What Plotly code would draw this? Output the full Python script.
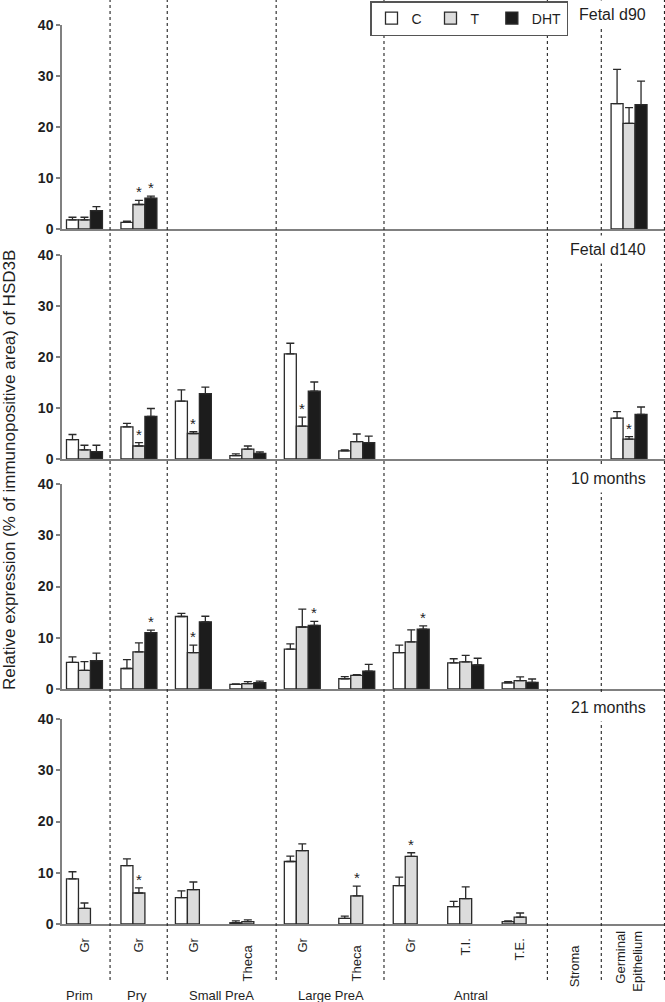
import plotly.graph_objects as go
from plotly.subplots import make_subplots

# ---------------- data ----------------
N = None
tick_labels = ["Gr", "Gr", "Gr", "Theca", "Gr", "Theca", "Gr", "T.I.", "T.E.", "Stroma",
               "Germinal<br>Epithelium"]
group_labels = ["Prim", "Pry", "Small PreA", "Large PreA", "Antral"]
group_pos = [-0.1, 0.96, 2.52, 4.53, 7.1]
panel_titles = ["Fetal d90", "Fetal d140", "10 months", "21 months"]
series_names = ["C", "T", "DHT"]

# Fetal d90
d90_C = [1.8, 1.3, N, N, N, N, N, N, N, N, 24.6]
d90_C_err = [0.5, 0.25, N, N, N, N, N, N, N, N, 6.7]
d90_T = [1.8, 4.8, N, N, N, N, N, N, N, N, 20.7]
d90_T_err = [0.5, 0.8, N, N, N, N, N, N, N, N, 3.1]
d90_DHT = [3.6, 6.05, N, N, N, N, N, N, N, N, 24.4]
d90_DHT_err = [0.8, 0.4, N, N, N, N, N, N, N, N, 4.6]

# Fetal d140
d140_C = [3.8, 6.3, 11.35, 0.65, 20.6, 1.6, N, N, N, N, 8.0]
d140_C_err = [1.0, 0.7, 2.2, 0.35, 2.1, 0.2, N, N, N, N, 1.3]
d140_T = [1.8, 2.55, 5.0, 1.95, 6.45, 3.4, N, N, N, N, 3.9]
d140_T_err = [0.9, 0.65, 0.35, 0.6, 1.75, 1.5, N, N, N, N, 0.5]
d140_DHT = [1.45, 8.35, 12.8, 1.1, 13.3, 3.2, N, N, N, N, 8.75]
d140_DHT_err = [1.25, 1.55, 1.3, 0.3, 1.8, 1.3, N, N, N, N, 1.45]

# 10 months
m10_C = [5.2, 4.0, 14.15, 0.9, 7.8, 2.0, 7.1, 5.1, 1.2, N, N]
m10_C_err = [1.05, 1.75, 0.6, 0.1, 1.0, 0.4, 1.45, 0.8, 0.25, N, N]
m10_T = [3.65, 7.25, 7.1, 1.05, 12.1, 2.65, 9.2, 5.3, 1.65, N, N]
m10_T_err = [1.7, 1.75, 1.45, 0.4, 3.5, 0.15, 2.35, 1.25, 0.7, N, N]
m10_DHT = [5.55, 11.0, 13.1, 1.25, 12.4, 3.5, 11.7, 4.7, 1.3, N, N]
m10_DHT_err = [1.45, 0.5, 1.1, 0.3, 0.8, 1.3, 0.6, 1.3, 0.65, N, N]

# 21 months (no DHT group)
m21_C = [8.8, 11.4, 5.15, 0.25, 12.2, 1.1, 7.5, 3.4, 0.45, N, N]
m21_C_err = [1.4, 1.3, 1.3, 0.35, 1.05, 0.45, 1.65, 1.0, 0.15, N, N]
m21_T = [3.05, 6.05, 6.7, 0.45, 14.3, 5.5, 13.2, 4.95, 1.35, N, N]
m21_T_err = [1.05, 1.0, 1.5, 0.35, 1.35, 1.9, 0.7, 2.3, 0.8, N, N]
m21_DHT = [N] * 11
m21_DHT_err = [N] * 11

# significance stars: (series index, category index)
stars_d90 = [(1, 1), (2, 1)]
stars_d140 = [(1, 1), (1, 2), (1, 4), (1, 10)]
stars_m10 = [(2, 1), (1, 2), (2, 4), (2, 6)]
stars_m21 = [(1, 1), (1, 5), (1, 6)]

panels = [
    ([d90_C, d90_T, d90_DHT], [d90_C_err, d90_T_err, d90_DHT_err], stars_d90),
    ([d140_C, d140_T, d140_DHT], [d140_C_err, d140_T_err, d140_DHT_err], stars_d140),
    ([m10_C, m10_T, m10_DHT], [m10_C_err, m10_T_err, m10_DHT_err], stars_m10),
    ([m21_C, m21_T, m21_DHT], [m21_C_err, m21_T_err, m21_DHT_err], stars_m21),
]

dividers = [0.47, 1.52, 3.52, 5.5, 8.5, 9.49, 10.65]

# ---------------- style ----------------
FONT = "Liberation Sans, Arial, Helvetica, sans-serif"
fills = ["#ffffff", "#dcdcdc", "#1c1c1c"]
edge = "#2a2a2a"
axis_col = "#808080"
txt = "#1f1f1f"

W, H = 665, 1002
ML, MR, MT, MB = 62, 0, 25, 78
plot_h = H - MT - MB
panel_px = [(25, 229), (255, 459), (484, 689), (719, 924)]


def py(p):
    return (H - MB - p) / plot_h


def px(p):
    return (p - ML) / (W - ML - MR)


x_range = [-0.4125, 10.66]
bargap = 0.34
bw = (1 - bargap) / 3

fig = make_subplots(rows=4, cols=1)
xs = list(range(len(tick_labels)))

# legend entry labels (trailing no-break spaces only widen the entry spacing)
legend_labels = ["C\u00a0", "T\u00a0\u00a0", "DHT"]

for r, (vals, errs, stars) in enumerate(panels, start=1):
    for s in range(3):
        fig.add_trace(
            go.Bar(
                x=xs, y=vals[s], name=legend_labels[s],
                marker=dict(color=fills[s], line=dict(color=edge, width=1.3)),
                error_y=dict(type="data", symmetric=False, array=errs[s],
                             arrayminus=[0 if v is not None else None for v in errs[s]],
                             color=edge, thickness=1.3, width=4),
                showlegend=(r == 1), legendgroup=series_names[s],
                hoverinfo="skip",
            ),
            row=r, col=1,
        )
    for (s, c) in stars:
        top = vals[s][c] + errs[s][c]
        fig.add_annotation(
            x=c + (s - 1) * bw, y=top, text="*", showarrow=False,
            xref=f"x{r if r > 1 else ''}", yref=f"y{r if r > 1 else ''}",
            yanchor="bottom", yshift=-2,
            font=dict(family=FONT, size=15, color=txt),
        )

# axes
for r in range(1, 5):
    top_px, bot_px = panel_px[r - 1]
    fig.update_yaxes(
        row=r, col=1, domain=[py(bot_px), py(top_px)], range=[0, 40],
        tickvals=[0, 10, 20, 30, 40], showgrid=False, zeroline=False,
        showline=True, linecolor=axis_col, linewidth=1.5,
        ticks="outside", ticklen=4, tickwidth=1.5, tickcolor=axis_col,
        tickfont=dict(family=FONT, size=14, color=txt, weight="bold"),
        fixedrange=True, automargin=False,
    )
    fig.update_xaxes(
        row=r, col=1, range=x_range, showgrid=False, zeroline=False,
        showline=True, linecolor=axis_col, linewidth=1.5,
        ticks="", tickvals=xs, showticklabels=(r == 4),
        fixedrange=True, automargin=False,
    )

pad2 = "\u00a0\u00a0"
pad4 = "\u00a0\u00a0\u00a0\u00a0"
tick_text = []
for lab in tick_labels:
    if lab in ("Theca", "Stroma"):
        tick_text.append(lab + pad4)
    elif "<br>" in lab:
        tick_text.append(lab)
    else:
        tick_text.append(lab + pad2)

fig.update_xaxes(row=4, col=1, ticktext=tick_text, tickangle=-90,
                 tickfont=dict(family=FONT, size=13, color=txt),
                 ticklabelstandoff=0)

# dotted dividers spanning all panels
for d in dividers:
    fig.add_shape(type="line", xref="x", yref="paper", x0=d, x1=d,
                  y0=py(980), y1=py(0), layer="above",
                  line=dict(color="#222222", width=1.1, dash="dot"))

# panel titles
title_px = [15, 249, 478, 707]
for t, p in zip(panel_titles, title_px):
    fig.add_annotation(
        x=px(652), y=py(p), xref="paper", yref="paper",
        xanchor="right", yanchor="middle", text=t, showarrow=False,
        bgcolor="white", borderpad=5,
        font=dict(family=FONT, size=16, color=txt),
    )

# group labels
for g, gx in zip(group_labels, group_pos):
    fig.add_annotation(x=gx, y=py(995), xref="x4", yref="paper", text=g,
                       showarrow=False, xanchor="center", yanchor="middle",
                       font=dict(family=FONT, size=13, color=txt))

# y-axis title
fig.add_annotation(
    x=px(10), y=py(470), xref="paper", yref="paper",
    text="Relative expression (% of immunopositive area) of HSD3B",
    textangle=-90, showarrow=False, xanchor="center", yanchor="middle",
    font=dict(family=FONT, size=17, color=txt),
)

fig.update_layout(
    width=W, height=H,
    margin=dict(l=ML, r=MR, t=MT, b=MB, autoexpand=False),
    barmode="group", bargap=bargap, bargroupgap=0,
    paper_bgcolor="white", plot_bgcolor="rgba(0,0,0,0)",
    font=dict(family=FONT, color=txt),
    legend=dict(
        orientation="h", x=px(370), y=py(1), xanchor="left", yanchor="top",
        bgcolor="white", bordercolor="#555555", borderwidth=1.5,
        font=dict(family=FONT, size=14, color=txt),
        traceorder="normal",
    ),
)

fig.write_html("out.html", config={"displayModeBar": False},
               post_script="document.body.style.margin='0';document.body.style.padding='0';")
